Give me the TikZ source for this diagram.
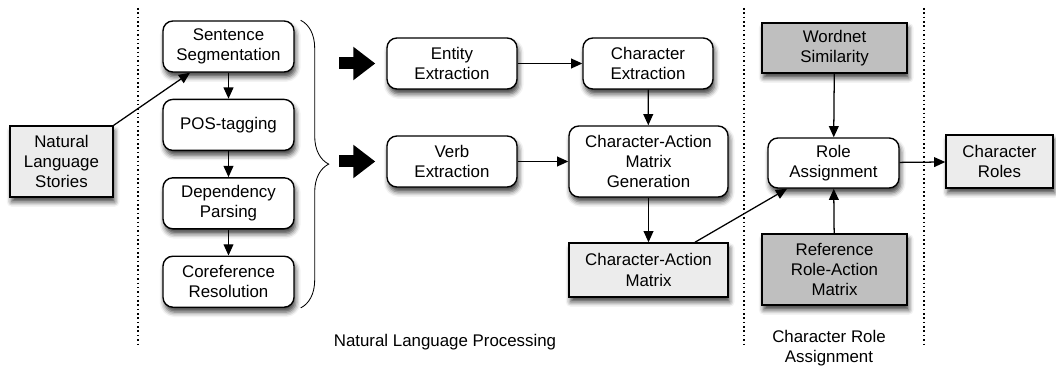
\documentclass[tikz,border=0pt]{standalone}
\usepackage{fontspec}
\setmainfont{Liberation Sans}
\usetikzlibrary{positioning,arrows.meta,decorations.pathreplacing,shadows.blur}
\begin{document}
\begin{tikzpicture}[
  every node/.style={font=\fontsize{12}{14.5}\selectfont, align=center, inner sep=1pt},
  box/.style={draw, line width=1pt, blur shadow={shadow xshift=1.2pt, shadow yshift=-3.5pt, shadow blur radius=3.5pt, shadow opacity=75}},
  stepbox/.style={box, fill=white, rounded corners=7pt, minimum width=3.275cm, minimum height=1.275cm},
  inbox/.style={box, fill=gray!15},
  refbox/.style={box, fill=gray!50, minimum width=3.625cm},
  flow/.style={-{Triangle[length=8pt, width=7pt]}, line width=0.9pt},
  bigarrow/.style={line width=0.3cm, -{Triangle[length=0.55cm, width=0.8cm]}},
  divider/.style={line width=1pt, dash pattern=on 1.1pt off 2pt}
]
  \useasboundingbox (0,0) rectangle (26.4,9.175);
  \node[inbox, minimum width=2.575cm, minimum height=1.775cm] (stories) at (1.5375,5.1375) {Natural\\Language\\Stories};
  \node[stepbox] (seg) at (5.7125,8.0125) {Sentence\\Segmentation};
  \node[stepbox, below=0.65cm of seg] (pos) {POS-tagging};
  \node[stepbox, below=0.65cm of pos] (dep) {Dependency\\Parsing};
  \node[stepbox, below=0.65cm of dep] (coref) {Coreference\\Resolution};
  \node[stepbox, minimum width=3.25cm] (entity) at (11.3,7.5875) {Entity\\Extraction};
  \node[stepbox, minimum width=3.25cm] (verb) at (11.3,5.1375) {Verb\\Extraction};
  \node[stepbox, minimum width=3.25cm] (charext) at (16.2,7.5875) {Character\\Extraction};
  \node[stepbox, minimum width=3.975cm, minimum height=1.775cm] (camg) at (16.2125,5.1375) {Character-Action\\Matrix\\Generation};
  \node[inbox, minimum width=3.975cm, minimum height=1.35cm] (cam) at (16.2125,2.425) {Character-Action\\Matrix};
  \node[refbox, minimum height=1.25cm] (wordnet) at (20.8625,7.975) {Wordnet\\Similarity};
  \node[stepbox, minimum width=3.275cm, minimum height=1.25cm] (role) at (20.8375,5.1) {Role\\Assignment};
  \node[refbox, minimum height=1.775cm] (refmat) at (20.8625,2.4375) {Reference\\Role-Action\\Matrix};
  \node[inbox, minimum width=2.675cm, minimum height=1.325cm] (roles) at (24.9875,5.1375) {Character\\Roles};
  \node (nlp) at (11.125,0.625) {Natural Language Processing};
  \node (cra) at (20.725,0.475) {Character Role\\Assignment};

  \draw[divider] (3.45,8.975) -- (3.45,0.55);
  \draw[divider] (18.6,8.975) -- (18.6,0.55);
  \draw[divider] (23.1,8.975) -- (23.1,0.55);
  \draw[decorate, decoration={brace, amplitude=0.7cm}, line width=0.6pt]
    ([xshift=0.15cm]seg.north east) -- ([xshift=0.15cm]coref.south east);

  \draw[flow] (stories.north east) -- ([xshift=-0.96cm]seg.south);
  \draw[flow] (seg) -- (pos);
  \draw[flow] (pos) -- (dep);
  \draw[flow] (dep) -- (coref);
  \draw[bigarrow] ([xshift=-1.175cm]entity.west) -- ([xshift=-0.275cm]entity.west);
  \draw[bigarrow] ([xshift=-1.175cm]verb.west) -- ([xshift=-0.275cm]verb.west);
  \draw[flow] (entity) -- (charext);
  \draw[flow] (verb) -- (camg);
  \draw[flow] (charext) -- (camg);
  \draw[flow] (camg) -- (cam);
  \draw[flow] ([xshift=1.16cm]cam.north) -- ([xshift=-1.16cm]role.south);
  \draw[flow] (wordnet) -- (role);
  \draw[flow] (refmat) -- (role);
  \draw[flow] (role) -- (roles);
\end{tikzpicture}
\end{document}
